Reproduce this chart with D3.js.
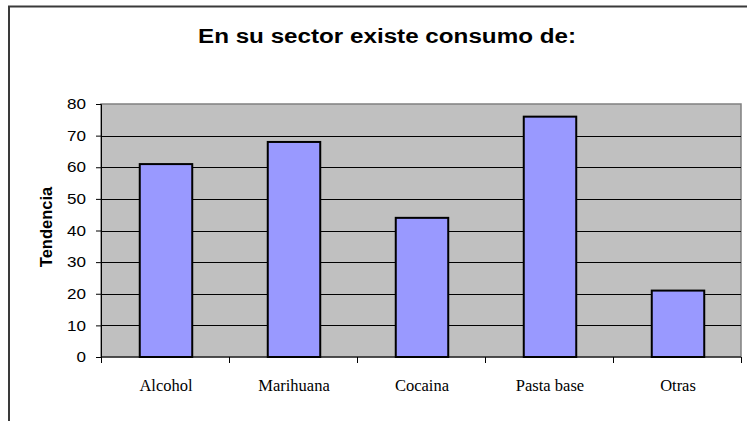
<!DOCTYPE html>
<html>
<head>
<meta charset="utf-8">
<script src="https://cdn.jsdelivr.net/npm/d3@7"></script>
<style>
  body { margin: 0; background: #fff; }
  svg { display: block; }
</style>
</head>
<body>
<div id="chart"></div>
<script>

//  values
var categories = ['Alcohol', 'Marihuana', 'Cocaina', 'Pasta base', 'Otras'];
var values = [61, 68, 44, 76, 21];
var y_ticks = [0, 10, 20, 30, 40, 50, 60, 70, 80];

var width = 747,
    height = 421;

var margin = { top: 104, right: 6, bottom: 64, left: 101 };

var sans = 'Arial, "Liberation Sans", sans-serif';
var serif = '"Times New Roman", "Liberation Serif", serif';

var svg = d3.select('#chart')
    .append('svg')
    .attr('width', width)
    .attr('height', height);

//  outer chart frame (right and bottom edges fall off the picture)
svg.append('rect')
    .attr('x', 9)
    .attr('y', 6.5)
    .attr('width', 760)
    .attr('height', 430)
    .attr('fill', '#fff')
    .attr('stroke', '#3a3a3a')
    .attr('stroke-width', 2);

var x = d3.scaleBand()
    .domain(categories)
    .range([margin.left, width - margin.right]);

var y = d3.scaleLinear()
    .domain([0, 80])
    .range([height - margin.bottom, margin.top]);

//  plot area
svg.append('rect')
    .attr('x', margin.left)
    .attr('y', margin.top)
    .attr('width', width - margin.left - margin.right)
    .attr('height', height - margin.top - margin.bottom)
    .attr('fill', '#c0c0c0')
    .attr('stroke', '#808080')
    .attr('stroke-width', 1.5);

//  gridlines
svg.append('g')
    .selectAll('line')
    .data(y_ticks.filter(function(d) { return d > 0 && d < 80; }))
    .enter()
    .append('line')
    .attr('x1', margin.left)
    .attr('x2', width - margin.right)
    .attr('y1', function(d) { return Math.round(y(d)) + 0.5; })
    .attr('y2', function(d) { return Math.round(y(d)) + 0.5; })
    .attr('stroke', '#000')
    .attr('stroke-width', 1);

//  bars
var bar_w = x.bandwidth() * 0.41;

svg.append('g')
    .selectAll('rect')
    .data(values)
    .enter()
    .append('rect')
    .attr('x', function(d, i) { return x(categories[i]) + x.bandwidth() / 2 - bar_w / 2 + 1; })
    .attr('y', function(d) { return y(d); })
    .attr('width', bar_w)
    .attr('height', function(d) { return y(0) - y(d); })
    .attr('fill', '#9999ff')
    .attr('stroke', '#000')
    .attr('stroke-width', 2);

//  y axis
var yAxis = svg.append('g')
    .attr('transform', 'translate(' + margin.left + ',0)')
    .call(d3.axisLeft(y).tickValues(y_ticks).tickSize(5).tickPadding(10));

yAxis.select('.domain').attr('stroke', '#000');
yAxis.selectAll('text')
    .attr('font-family', sans)
    .attr('font-size', 14.5)
    .attr('fill', '#000')
    .attr('textLength', function(d) { return String(d).length * 9.5; })
    .attr('lengthAdjust', 'spacingAndGlyphs');

//  x axis, ticks sit on the category boundaries
var xAxis = svg.append('g')
    .attr('transform', 'translate(0,' + (height - margin.bottom) + ')');

xAxis.append('line')
    .attr('x1', margin.left)
    .attr('x2', width - margin.right)
    .attr('stroke', '#000');

var boundaries = categories.map(function(c) { return x(c); }).concat([width - margin.right]);

xAxis.selectAll('.tick-mark')
    .data(boundaries)
    .enter()
    .append('line')
    .attr('class', 'tick-mark')
    .attr('x1', function(d) { return Math.round(d) + 0.5; })
    .attr('x2', function(d) { return Math.round(d) + 0.5; })
    .attr('y1', 0)
    .attr('y2', 6)
    .attr('stroke', '#000');

xAxis.selectAll('.cat-label')
    .data(categories)
    .enter()
    .append('text')
    .attr('class', 'cat-label')
    .attr('x', function(d) { return x(d) + x.bandwidth() / 2 + 1; })
    .attr('y', 34)
    .attr('text-anchor', 'middle')
    .attr('font-family', serif)
    .attr('font-size', 16.5)
    .text(function(d) { return d; });

//  y axis title
svg.append('text')
    .attr('transform', 'translate(52,227) rotate(-90)')
    .attr('text-anchor', 'middle')
    .attr('font-family', sans)
    .attr('font-weight', 'bold')
    .attr('font-size', 16.5)
    .text('Tendencia');

//  chart title, stretched wide like the original
svg.append('text')
    .attr('x', 387)
    .attr('y', 43)
    .attr('text-anchor', 'middle')
    .attr('font-family', sans)
    .attr('font-weight', 'bold')
    .attr('font-size', 20)
    .attr('textLength', 378)
    .attr('lengthAdjust', 'spacingAndGlyphs')
    .text('En su sector existe consumo de:');

</script>
</body>
</html>
